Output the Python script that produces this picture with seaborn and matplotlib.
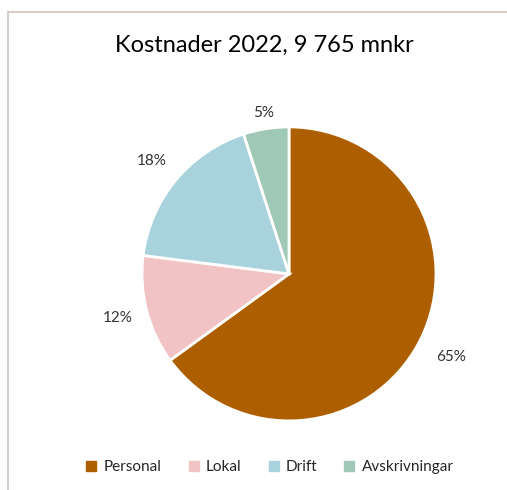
import matplotlib
matplotlib.use("Agg")
import matplotlib.pyplot as plt
from matplotlib.lines import Line2D
import seaborn as sns

# Data
categories = ["Personal", "Lokal", "Drift", "Avskrivningar"]
shares = [65, 12, 18, 5]
colors = ["#AD5F00", "#F2C3C5", "#A9D3DC", "#A0C8B6"]
label_dist = [1.24, 1.2, 1.21, 1.11]
title = "Kostnader 2022, 9 765 mnkr"

sns.set_style("white")
plt.rcParams["font.family"] = ["Lato", "DejaVu Sans"]

fig = plt.figure(figsize=(5.07, 4.9), dpi=100)

# Pie axes: radius 1 fills the axes
ax = fig.add_axes([0.280, 0.141, 0.580, 0.600])
wedges, texts, autotexts = ax.pie(
    shares,
    colors=colors,
    startangle=90,
    counterclock=False,
    autopct=lambda p: f"{p:.0f}%",
    pctdistance=1.0,
    wedgeprops=dict(edgecolor="white", linewidth=2),
    textprops=dict(fontsize=11, color="#333333"),
)
# push percentage labels outside, like Excel's outside-end labels
for t, d in zip(autotexts, label_dist):
    x, y = t.get_position()
    t.set_position((x * d, y * d))
ax.set_xlim(-1, 1)
ax.set_ylim(-1, 1)
ax.set_aspect("equal")

fig.text(0.522, 0.908, title, ha="center", va="center", fontsize=17, color="black")

# Legend
handles = [Line2D([0], [0], marker="s", linestyle="", markersize=7,
                  markerfacecolor=c, markeredgecolor=c) for c in colors]
fig.legend(handles, categories, loc="center", bbox_to_anchor=(0.53, 0.047),
           ncol=4, frameon=False, fontsize=11, handletextpad=0.3,
           columnspacing=1.6, handlelength=1.0)

# Chart frame (only top and left edges visible in the crop)
x0, y0 = 8 / 507, 1 - 12 / 490
fig.add_artist(Line2D([x0, 1.0], [y0, y0], transform=fig.transFigure,
                      color="#D8CEC9", linewidth=1.5))
fig.add_artist(Line2D([x0, x0], [0.0, y0], transform=fig.transFigure,
                      color="#D8CEC9", linewidth=1.5))

fig.savefig("out.png", dpi=100)
